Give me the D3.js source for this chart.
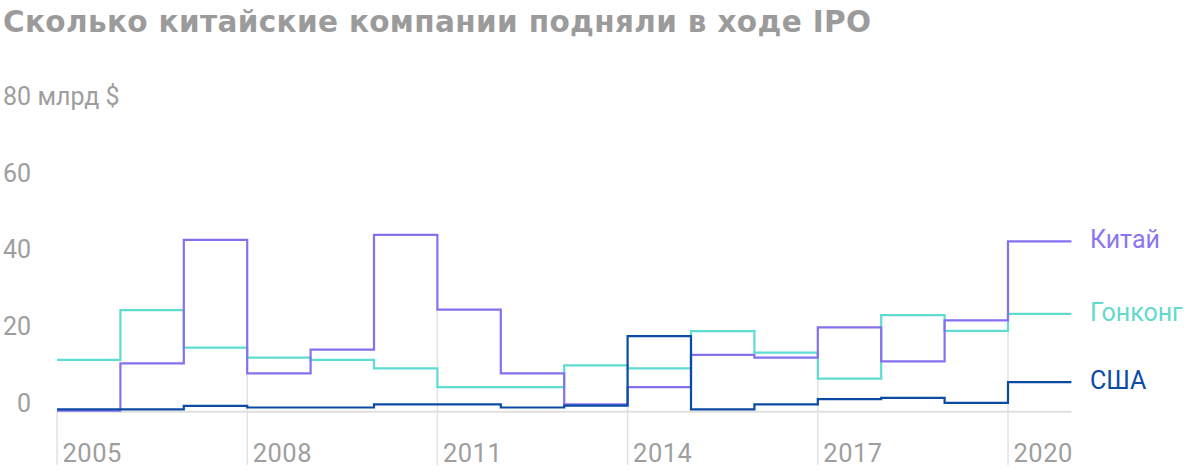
<!DOCTYPE html>
<html>
<head>
<meta charset="utf-8">
<script src="https://cdn.jsdelivr.net/npm/d3@7"></script>
<style>
  html, body { margin: 0; padding: 0; background: #fff; }
  svg { display: block; font-family: Roboto, "Noto Sans", sans-serif; }
</style>
</head>
<body>
<svg id="chart" width="1200" height="473"></svg>
<script>
// ---- Data ----
const years = [2005, 2006, 2007, 2008, 2009, 2010, 2011, 2012, 2013, 2014, 2015, 2016, 2017, 2018, 2019, 2020];
const china     = [0.3, 12.6, 44.8, 10.0, 16.2, 46.1, 26.6, 10.0, 1.9, 6.4, 14.8, 14.1, 22.0, 13.1, 23.8, 44.4];
const hongkong  = [13.5, 26.5, 16.7, 14.1, 13.5, 11.3, 6.4, 6.4, 12.1, 11.3, 21.0, 15.4, 8.6, 25.2, 21.1, 25.5];
const usa       = [0.6, 0.6, 1.5, 1.1, 1.1, 1.9, 1.9, 1.1, 1.6, 19.7, 0.6, 1.9, 3.3, 3.6, 2.3, 7.7];
const seriesNames = ["Китай", "Гонконг", "США"];
const yTicks = [0, 20, 40, 60, 80];
const xTicks = [2005, 2008, 2011, 2014, 2017, 2020];
const title = "Сколько китайские компании подняли в ходе IPO";
const unitLabel = "млрд $";

// ---- Layout ----
const svg = d3.select("#chart");
const x = d3.scaleLinear().domain([2005, 2021]).range([57, 1071.4]);
const y = d3.scaleLinear().domain([0, 80]).range([411.7, 104.9]);

const colors = { "Китай": "#8670ef", "Гонконг": "#5fdcd1", "США": "#0b4ba3" };
const labelColors = { "Китай": "#8a76ef", "Гонконг": "#62d9cc", "США": "#0b4ba3" };

// Title
svg.append("text")
  .attr("x", 3).attr("y", 32)
  .attr("font-family", "'DejaVu Sans', sans-serif")
  .attr("font-size", 29.5).attr("font-weight", 700)
  .attr("fill", "#9b9b9b")
  .attr("textLength", 868).attr("lengthAdjust", "spacing")
  .text(title);

// Y tick labels
const yLab = svg.append("g");
yLab.selectAll("text.tick").data(yTicks).join("text")
  .attr("class", "tick")
  .attr("x", 31).attr("y", d => y(d))
  .attr("text-anchor", "end")
  .attr("font-size", 25).attr("fill", "#9e9e9e")
  .text(d => d);
yLab.append("text")
  .attr("x", 37.5).attr("y", y(80))
  .attr("font-size", 25).attr("fill", "#9e9e9e")
  .text(unitLabel);

// x tick lines (behind)
const allSeries = [china, hongkong, usa];
const tickTop = yr => {
  const i = years.indexOf(yr);
  if (i <= 0) return y(0);
  const prevMax = d3.max(allSeries, s => s[i - 1]);
  const curMax = d3.max(allSeries, s => s[i]);
  return y(Math.min(prevMax, curMax));
};
svg.append("g").selectAll("line").data(xTicks).join("line")
  .attr("x1", d => x(d)).attr("x2", d => x(d))
  .attr("y1", d => tickTop(d)).attr("y2", 465)
  .attr("stroke", "#e2e2e2").attr("stroke-width", 1.5);

// baseline
svg.append("line")
  .attr("x1", x(2005)).attr("x2", x(2021))
  .attr("y1", y(0)).attr("y2", y(0))
  .attr("stroke", "#e0e0e0").attr("stroke-width", 2);

// x tick labels
svg.append("g").selectAll("text").data(xTicks).join("text")
  .attr("x", d => x(d) + 5.5).attr("y", 461.7)
  .attr("font-size", 25.5).attr("fill", "#9e9e9e")
  .attr("letter-spacing", 0.5)
  .text(d => d);

// Lines
const line = d3.line()
  .x(d => x(d[0])).y(d => y(d[1]))
  .curve(d3.curveStepAfter);

const seriesData = [
  { name: "Гонконг", values: hongkong },
  { name: "Китай", values: china },
  { name: "США", values: usa }
];
seriesData.forEach(s => {
  const pts = years.map((yr, i) => [yr, s.values[i]]);
  pts.push([years[years.length - 1] + 1, s.values[s.values.length - 1]]);
  svg.append("path")
    .attr("d", line(pts))
    .attr("fill", "none")
    .attr("stroke", colors[s.name])
    .attr("stroke-width", 2.2);
});

// Labels at line ends
seriesData.forEach(s => {
  svg.append("text")
    .attr("x", x(2021) + 18.5)
    .attr("y", y(s.values[s.values.length - 1]) + 7)
    .attr("font-size", 25)
    .attr("fill", labelColors[s.name])
    .text(s.name);
});
</script>
</body>
</html>
